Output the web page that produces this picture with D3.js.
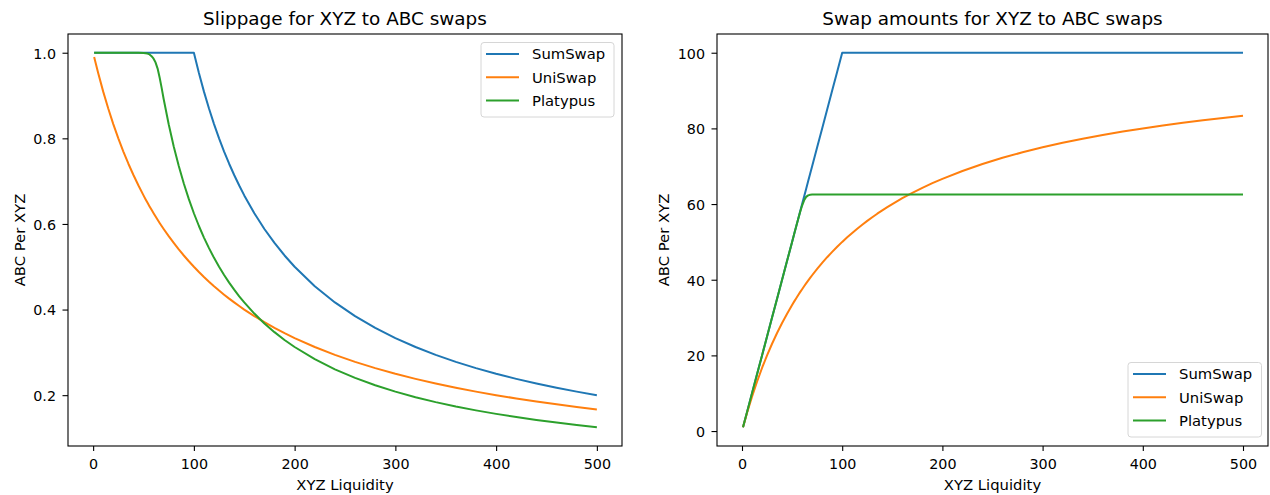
<!DOCTYPE html>
<html>
<head>
<meta charset="utf-8">
<script src="https://cdn.jsdelivr.net/npm/d3@7"></script>
<style>
  html, body { margin: 0; padding: 0; background: #ffffff; }
  svg { display: block; }
  text { font-family: "DejaVu Sans", sans-serif; fill: #000; }
</style>
</head>
<body>
<svg id="chart" width="1270" height="495"></svg>
<script>
// ---------------- DATA ----------------
const xyzLiquidity = [1,5,10,15,20,25,30,35,40,45,50,52,54,56,58,60,62,64,66,68,70,75,80,85,90,95,100,105,110,115,120,125,130,135,140,145,150,160,170,180,190,200,220,240,260,280,300,320,340,360,380,400,420,440,460,480,500];

const seriesNames = ["SumSwap", "UniSwap", "Platypus"];

// Slippage (ABC per XYZ)
const slipSumSwap = [1,1,1,1,1,1,1,1,1,1,1,1,1,1,1,1,1,1,1,1,1,1,1,1,1,1,1,0.9524,0.9091,0.8696,0.8333,0.8,0.7692,0.7407,0.7143,0.6897,0.6667,0.625,0.5882,0.5556,0.5263,0.5,0.4545,0.4167,0.3846,0.3571,0.3333,0.3125,0.2941,0.2778,0.2632,0.25,0.2381,0.2273,0.2174,0.2083,0.2];
const slipUniSwap = [0.9901,0.9524,0.9091,0.8696,0.8333,0.8,0.7692,0.7407,0.7143,0.6897,0.6667,0.6579,0.6494,0.641,0.6329,0.625,0.6173,0.6098,0.6024,0.5952,0.5882,0.5714,0.5556,0.5405,0.5263,0.5128,0.5,0.4878,0.4762,0.4651,0.4545,0.4444,0.4348,0.4255,0.4167,0.4082,0.4,0.3846,0.3704,0.3571,0.3448,0.3333,0.3125,0.2941,0.2778,0.2632,0.25,0.2381,0.2273,0.2174,0.2083,0.2,0.1923,0.1852,0.1786,0.1724,0.1667];
const slipPlatypus = [1,1,1,1,1,1,1,1,1,1,0.9995,0.999,0.998,0.996,0.992,0.986,0.977,0.963,0.942,0.918,0.892,0.833,0.781,0.7353,0.6944,0.6579,0.625,0.5952,0.5682,0.5435,0.5208,0.5,0.4808,0.463,0.4464,0.431,0.4167,0.3906,0.3676,0.3472,0.3289,0.3125,0.2841,0.2604,0.2404,0.2232,0.2083,0.1953,0.1838,0.1736,0.1645,0.1563,0.1488,0.142,0.1359,0.1302,0.125];

// Swap amounts (ABC received)
const amtSumSwap = [1,5,10,15,20,25,30,35,40,45,50,52,54,56,58,60,62,64,66,68,70,75,80,85,90,95,100,100,100,100,100,100,100,100,100,100,100,100,100,100,100,100,100,100,100,100,100,100,100,100,100,100,100,100,100,100,100];
const amtUniSwap = [0.99,4.762,9.091,13.04,16.67,20,23.08,25.93,28.57,31.03,33.33,34.21,35.06,35.9,36.71,37.5,38.27,39.02,39.76,40.48,41.18,42.86,44.44,45.95,47.37,48.72,50,51.22,52.38,53.49,54.55,55.56,56.52,57.45,58.33,59.18,60,61.54,62.96,64.29,65.52,66.67,68.75,70.59,72.22,73.68,75,76.19,77.27,78.26,79.17,80,80.77,81.48,82.14,82.76,83.33];
const amtPlatypus = [1,5,10,15,20,25,30,35,40,45,50,52,54,56,57.9,59.6,61.0,61.9,62.3,62.45,62.5,62.5,62.5,62.5,62.5,62.5,62.5,62.5,62.5,62.5,62.5,62.5,62.5,62.5,62.5,62.5,62.5,62.5,62.5,62.5,62.5,62.5,62.5,62.5,62.5,62.5,62.5,62.5,62.5,62.5,62.5,62.5,62.5,62.5,62.5,62.5,62.5];

const xTicks = [0, 100, 200, 300, 400, 500];
const slipTicks = [0.2, 0.4, 0.6, 0.8, 1.0];
const amtTicks = [0, 20, 40, 60, 80, 100];

const titles = ["Slippage for XYZ to ABC swaps", "Swap amounts for XYZ to ABC swaps"];
const xLabel = "XYZ Liquidity";
const yLabel = "ABC Per XYZ";

// ---------------- STYLE ----------------
const colors = ["#1f77b4", "#ff7f0e", "#2ca02c"];
const svg = d3.select("#chart");
svg.append("rect").attr("width", 1270).attr("height", 495).attr("fill", "#fff");

const FS_TICK = 14.3;
const FS_LABEL = 14.8;
const FS_TITLE = 18.4;

function drawPanel(cfg) {
  const { left, right, top, bottom, xDomain, yDomain, yTicks, yFmt, series, title, yLabelX, legend } = cfg;
  const x = d3.scaleLinear().domain(xDomain).range([left, right]);
  const y = d3.scaleLinear().domain(yDomain).range([bottom, top]);
  const g = svg.append("g");

  const clipId = "clip" + left;
  svg.append("clipPath").attr("id", clipId)
    .append("rect").attr("x", left).attr("y", top).attr("width", right - left).attr("height", bottom - top);

  const line = d3.line().x(d => x(d[0])).y(d => y(d[1]));
  const lg = g.append("g").attr("clip-path", `url(#${clipId})`);
  series.forEach((vals, i) => {
    const pts = xyzLiquidity.map((xv, k) => [xv, vals[k]]);
    lg.append("path").datum(pts).attr("d", line)
      .attr("fill", "none").attr("stroke", colors[i]).attr("stroke-width", 2)
      .attr("stroke-linejoin", "round").attr("stroke-linecap", "butt");
  });

  const xAxis = d3.axisBottom(x).tickValues(xTicks).tickSize(5).tickPadding(4).tickFormat(d3.format("d"));
  const yAxis = d3.axisLeft(y).tickValues(yTicks).tickSize(5.5).tickPadding(6.5).tickFormat(yFmt);
  const gx = g.append("g").attr("transform", `translate(0,${bottom})`).call(xAxis);
  const gy = g.append("g").attr("transform", `translate(${left},0)`).call(yAxis);
  [gx, gy].forEach(a => {
    a.select(".domain").remove();
    a.selectAll(".tick line").attr("stroke", "#000").attr("stroke-width", 1.1);
    a.selectAll(".tick text").attr("font-size", FS_TICK).attr("font-family", "DejaVu Sans").attr("fill", "#000");
  });
  gx.selectAll(".tick text").attr("dy", null).attr("y", 23.2).attr("dominant-baseline", "alphabetic");
  gy.selectAll(".tick text").attr("dy", "0.38em");

  g.append("rect").attr("x", left).attr("y", top).attr("width", right - left).attr("height", bottom - top)
    .attr("fill", "none").attr("stroke", "#000").attr("stroke-width", 1.1);

  g.append("text").attr("x", (left + right) / 2).attr("y", 25)
    .attr("text-anchor", "middle").attr("font-size", FS_TITLE).text(title);
  g.append("text").attr("x", (left + right) / 2).attr("y", 489.5)
    .attr("text-anchor", "middle").attr("font-size", FS_LABEL).text(xLabel);
  g.append("text").attr("transform", `translate(${yLabelX},${(top + bottom) / 2}) rotate(-90)`)
    .attr("text-anchor", "middle").attr("font-size", FS_LABEL).text(yLabel);

  const L = g.append("g");
  L.append("rect").attr("x", legend.x).attr("y", legend.y).attr("width", legend.w).attr("height", legend.h)
    .attr("rx", 3).attr("ry", 3).attr("fill", "#fff").attr("fill-opacity", 0.8)
    .attr("stroke", "#d6d6d6").attr("stroke-width", 1);
  seriesNames.forEach((name, i) => {
    const ry = legend.y + 11.5 + i * 23.3;
    L.append("line").attr("x1", legend.x + 5).attr("x2", legend.x + 38).attr("y1", ry).attr("y2", ry)
      .attr("stroke", colors[i]).attr("stroke-width", 2);
    L.append("text").attr("x", legend.x + 51).attr("y", ry + 5.2).attr("font-size", FS_LABEL).text(name);
  });
}

drawPanel({
  left: 68, right: 622, top: 34, bottom: 446,
  xDomain: [-24.95, 524.95], yDomain: [0.08125, 1.04375],
  yTicks: slipTicks, yFmt: d3.format(".1f"),
  series: [slipSumSwap, slipUniSwap, slipPlatypus],
  title: titles[0], yLabelX: 25,
  legend: { x: 481, y: 42.5, w: 133, h: 74.5 }
});

drawPanel({
  left: 717, right: 1268, top: 34, bottom: 446,
  xDomain: [-24.95, 524.95], yDomain: [-3.95, 104.95],
  yTicks: amtTicks, yFmt: d3.format("d"),
  series: [amtSumSwap, amtUniSwap, amtPlatypus],
  title: titles[1], yLabelX: 669,
  legend: { x: 1128, y: 362.5, w: 133.5, h: 74.5 }
});
</script>
</body>
</html>
